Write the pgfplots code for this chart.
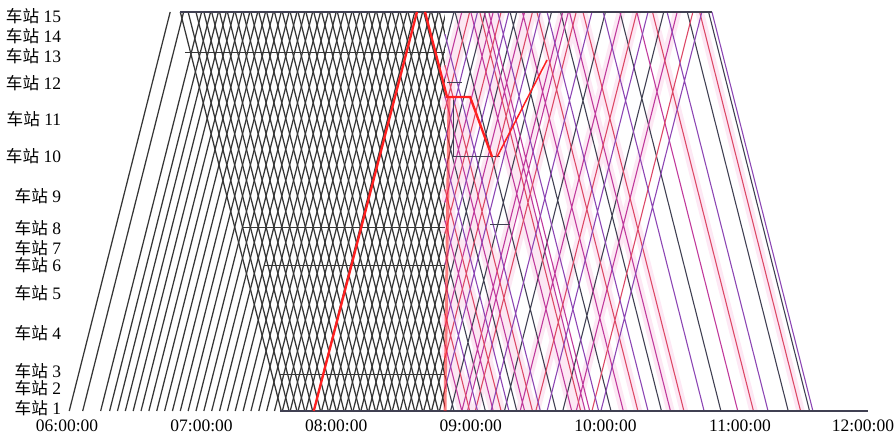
\documentclass[border=0pt]{standalone}
\usepackage{pgfplots}
\pgfplotsset{compat=1.18}
\usepackage{fontspec}
\setmainfont{Liberation Serif}
\newfontfamily\cjk[Scale=0.95]{Noto Sans CJK SC}
\definecolor{meshc}{HTML}{363636}
\definecolor{cdark}{HTML}{404052}
\definecolor{cmag}{HTML}{C0399C}
\definecolor{ccrim}{HTML}{DC4866}
\definecolor{cviol}{HTML}{8C46B4}
\definecolor{cred}{HTML}{FF2020}
\definecolor{haze}{HTML}{F070B8}
\begin{document}
\begin{tikzpicture}
\begin{axis}[
  at={(0,0)}, anchor=south west,
  x=1.346pt, y=6pt,
  xmin=0, xmax=360, ymin=0, ymax=39.9,
  enlargelimits=false, clip=false,
  axis line style={draw=none}, tick style={draw=none},
  unbounded coords=jump,
  tick label style={font=\fontsize{10.5}{12}\selectfont},
  xticklabel style={yshift=-1.5pt},
  xtick={0,60,120,180,240,300},
  xticklabels={06:00:00,07:00:00,08:00:00,09:00:00,10:00:00,11:00:00},
  extra x ticks={360}, extra x tick labels={12:00:00},
  extra x tick style={xticklabel style={xshift=-7pt}},
  ytick={0.3,2.3,4.0,7.8,11.8,14.6,16.3,18.3,21.5,25.5,29.2,32.8,35.5,37.5,39.5},
  yticklabels={{\cjk 车站} 1,{\cjk 车站} 2,{\cjk 车站} 3,{\cjk 车站} 4,{\cjk 车站} 5,{\cjk 车站} 6,{\cjk 车站} 7,{\cjk 车站} 8,{\cjk 车站} 9,{\cjk 车站} 10,{\cjk 车站} 11,{\cjk 车站} 12,{\cjk 车站} 13,{\cjk 车站} 14,{\cjk 车站} 15},
]
% black up trains
\addplot[meshc, line width=0.75pt] table {
x y
1 0
46 39.9
nan nan
7 0
52 39.9
nan nan
15 0
60 39.9
nan nan
19 0
64 39.9
nan nan
22.5 0
67.5 39.9
nan nan
26 0
71 39.9
nan nan
29.5 0
74.5 39.9
nan nan
33 0
78 39.9
nan nan
36.5 0
81.5 39.9
nan nan
40 0
85 39.9
nan nan
43.5 0
88.5 39.9
nan nan
47 0
92 39.9
nan nan
50.5 0
95.5 39.9
nan nan
54 0
99 39.9
nan nan
57.5 0
102.5 39.9
nan nan
61 0
106 39.9
nan nan
64.5 0
109.5 39.9
nan nan
68 0
113 39.9
nan nan
71.5 0
116.5 39.9
nan nan
75 0
120 39.9
nan nan
78.5 0
123.5 39.9
nan nan
82 0
127 39.9
nan nan
85.5 0
130.5 39.9
nan nan
89 0
134 39.9
nan nan
92.5 0
137.5 39.9
nan nan
96 0
141 39.9
nan nan
99.5 0
144.5 39.9
nan nan
103 0
148 39.9
nan nan
106.5 0
151.5 39.9
nan nan
110 0
155 39.9
nan nan
113.5 0
158.5 39.9
nan nan
117 0
162 39.9
nan nan
120.5 0
165.5 39.9
nan nan
124 0
169 39.9
nan nan
127.5 0
172.5 39.9
nan nan
131 0
176 39.9
nan nan
134.5 0
179.5 39.9
nan nan
138 0
183 39.9
nan nan
141.5 0
186.5 39.9
nan nan
145 0
190 39.9
nan nan
148.5 0
193.5 39.9
nan nan
152 0
197 39.9
nan nan
155.5 0
200.5 39.9
nan nan
159 0
204 39.9
nan nan
162.5 0
207.5 39.9
nan nan
166 0
211 39.9
};
% black down trains
\addplot[meshc, line width=0.75pt] table {
x y
50.5 39.9
95.5 0
nan nan
54 39.9
99 0
nan nan
57.5 39.9
102.5 0
nan nan
61 39.9
106 0
nan nan
64.5 39.9
109.5 0
nan nan
68 39.9
113 0
nan nan
71.5 39.9
116.5 0
nan nan
75 39.9
120 0
nan nan
78.5 39.9
123.5 0
nan nan
82 39.9
127 0
nan nan
85.5 39.9
130.5 0
nan nan
89 39.9
134 0
nan nan
92.5 39.9
137.5 0
nan nan
96 39.9
141 0
nan nan
99.5 39.9
144.5 0
nan nan
103 39.9
148 0
nan nan
106.5 39.9
151.5 0
nan nan
110 39.9
155 0
nan nan
113.5 39.9
158.5 0
nan nan
117 39.9
162 0
nan nan
120.5 39.9
165.5 0
nan nan
124 39.9
169 0
nan nan
127.5 39.9
172.5 0
nan nan
131 39.9
176 0
nan nan
134.5 39.9
179.5 0
nan nan
138 39.9
183 0
nan nan
141.5 39.9
186.5 0
nan nan
145 39.9
190 0
nan nan
148.5 39.9
193.5 0
nan nan
152 39.9
197 0
nan nan
155.5 39.9
200.5 0
nan nan
159 39.9
204 0
nan nan
162.5 39.9
207.5 0
nan nan
166 39.9
211 0
};
% station dwell lines in dense period
\addplot[meshc, line width=0.7pt] table {
x y
52.6 35.83
168.5 35.83
nan nan
78.5 18.32
193 18.32
nan nan
88.3 14.55
186.3 14.55
nan nan
95 3.66
168.5 3.66
};
\fill[white] (axis cs:168.5,-0.3) rectangle (axis cs:215,40.3);
% pink haze under the adjusted trains
\addplot[haze, line width=5pt, opacity=0.16] table {
x y
168.5 33.25
176 39.9
nan nan
168.5 20.84
190 39.9
nan nan
168.5 8.42
204 39.9
nan nan
176 0
221 39.9
nan nan
202 0
247 39.9
nan nan
227 0
272 39.9
nan nan
168.5 6.65
176 0
nan nan
168.5 19.06
190 0
nan nan
168.5 31.48
204 0
nan nan
180 39.9
225 0
nan nan
203 39.9
248 0
nan nan
224 39.9
269 0
nan nan
168.5 30.15
179.5 39.9
nan nan
168.5 17.73
193.5 39.9
nan nan
168.5 5.32
207.5 39.9
nan nan
182 0
227 39.9
nan nan
209 0
254 39.9
nan nan
168.5 9.75
179.5 0
nan nan
168.5 22.17
193.5 0
nan nan
168.5 34.58
207.5 0
nan nan
184 39.9
229 0
nan nan
209.5 39.9
254.5 0
nan nan
230 39.9
275 0
nan nan
261 39.9
306 0
nan nan
282 39.9
327 0
};
% coloured (adjusted) trains: dark
\addplot[cdark, line width=0.65pt] table {
x y
168.5 36.35
172.5 39.9
nan nan
168.5 23.94
186.5 39.9
nan nan
168.5 11.53
200.5 39.9
nan nan
171 0
216 39.9
nan nan
195 0
240 39.9
nan nan
221 0
266 39.9
nan nan
168.5 3.55
172.5 0
nan nan
168.5 15.96
186.5 0
nan nan
168.5 28.37
200.5 0
nan nan
173 39.9
218 0
nan nan
197.5 39.9
242.5 0
nan nan
220 39.9
265 0
nan nan
246.5 39.9
291.5 0
nan nan
276.5 39.9
321.5 0
nan nan
286 39.9
331 0
};
% magenta
\addplot[cmag, line width=0.65pt] table {
x y
168.5 33.25
176 39.9
nan nan
168.5 20.84
190 39.9
nan nan
168.5 8.42
204 39.9
nan nan
176 0
221 39.9
nan nan
202 0
247 39.9
nan nan
227 0
272 39.9
nan nan
168.5 6.65
176 0
nan nan
168.5 19.06
190 0
nan nan
168.5 31.48
204 0
nan nan
180 39.9
225 0
nan nan
203 39.9
248 0
nan nan
224 39.9
269 0
nan nan
254 39.9
299 0
nan nan
178.5 0
223.5 39.9
nan nan
186 39.9
231 0
nan nan
188 39.9
233 0
};
% crimson
\addplot[ccrim, line width=0.65pt] table {
x y
168.5 30.15
179.5 39.9
nan nan
168.5 17.73
193.5 39.9
nan nan
168.5 5.32
207.5 39.9
nan nan
182 0
227 39.9
nan nan
209 0
254 39.9
nan nan
234 0
279 39.9
nan nan
168.5 9.75
179.5 0
nan nan
168.5 22.17
193.5 0
nan nan
168.5 34.58
207.5 0
nan nan
184 39.9
229 0
nan nan
209.5 39.9
254.5 0
nan nan
230 39.9
275 0
nan nan
261 39.9
306 0
nan nan
282 39.9
327 0
};
% violet
\addplot[cviol, line width=0.65pt] table {
x y
168.5 27.04
183 39.9
nan nan
168.5 14.63
197 39.9
nan nan
168.5 2.22
211 39.9
nan nan
189 0
234 39.9
nan nan
214 0
259 39.9
nan nan
238 0
283 39.9
nan nan
168.5 12.86
183 0
nan nan
168.5 25.27
197 0
nan nan
168.5 37.68
211 0
nan nan
192 39.9
237 0
nan nan
214 39.9
259 0
nan nan
239 39.9
284 0
nan nan
267.5 39.9
312.5 0
nan nan
287.5 39.9
332.5 0
};
% terminal lines
\addplot[cdark, line width=0.9pt] table {
x y
50.4 39.9
287.5 39.9
nan nan
95 0
357 0
};
% small dark segments near disruption
\addplot[cdark, line width=0.6pt] table {
x y
169.4 32.8
176.1 32.8
nan nan
172.1 31.1
172.1 25.4
193 25.4
nan nan
188.6 18.6
197.5 18.6
};
% red band at the disruption time
\addplot[cred, line width=1.8pt, opacity=0.55] table {
x y
168.5 0
170.3 31.4
};
% red highlighted train
\addplot[cred, line width=1.4pt] table {
x y
110 0
156 39.9
nan nan
159.6 39.9
169.4 31.4
179.7 31.4
189.5 25.4
};
\addplot[cred, line width=0.9pt] table {
x y
191.7 25.4
214 35.1
};
\end{axis}
\pgfresetboundingbox
\path[use as bounding box] (-40.2pt,-14.4pt) rectangle (497.4pt,246.6pt);
\end{tikzpicture}
\end{document}
